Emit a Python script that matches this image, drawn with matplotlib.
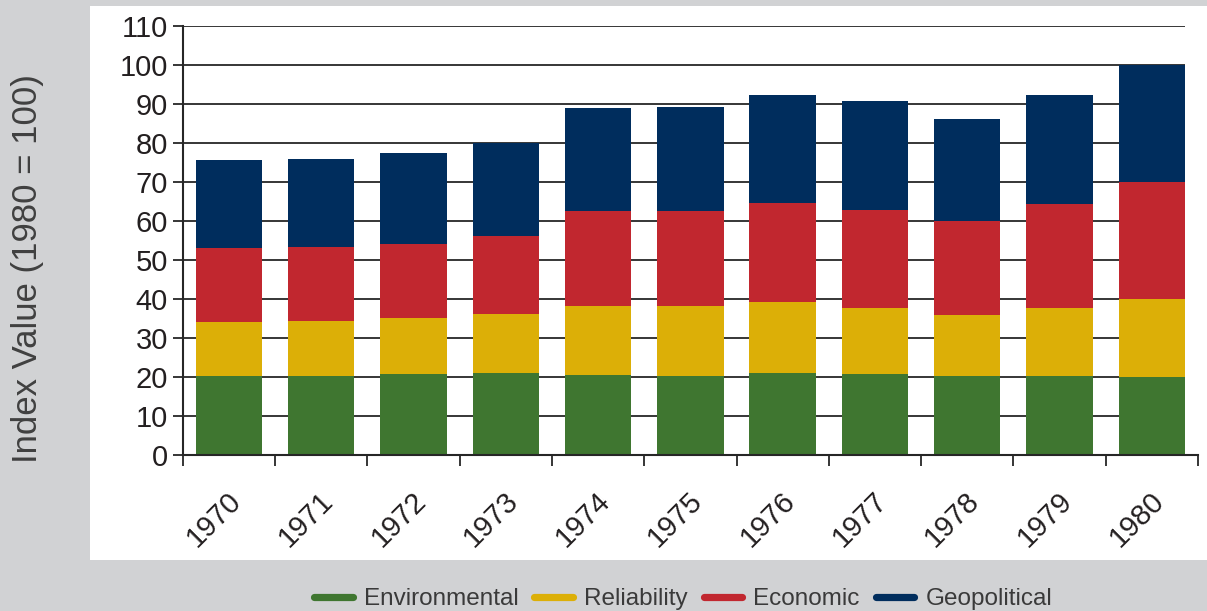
import numpy as np
import matplotlib
matplotlib.use("Agg")
import matplotlib.pyplot as plt
from matplotlib.lines import Line2D
from matplotlib.patches import Rectangle
from matplotlib.transforms import ScaledTranslation

# Index components per year (stacked, 1980 = 100)
years = ["1970", "1971", "1972", "1973", "1974", "1975",
         "1976", "1977", "1978", "1979", "1980"]
environmental = [20.3, 20.3, 20.8, 21.0, 20.5, 20.3, 21.0, 20.8, 20.3, 20.3, 20.0]
reliability = [13.8, 14.1, 14.3, 15.2, 17.7, 17.9, 18.2, 16.9, 15.6, 17.4, 20.0]
economic = [19.1, 18.9, 19.0, 20.0, 24.4, 24.4, 25.4, 25.1, 24.1, 26.7, 30.0]
geopolitical = [22.4, 22.6, 23.3, 23.7, 26.4, 26.6, 27.7, 28.0, 26.2, 27.9, 30.0]

labels = ["Environmental", "Reliability", "Economic", "Geopolitical"]
colors = ["#3f7630", "#dcaf07", "#c1272f", "#002d5d"]

plt.rcParams["font.family"] = ["Liberation Sans", "DejaVu Sans"]

W, H = 1207, 611
fig = plt.figure(figsize=(W / 100, H / 100), dpi=100, facecolor="#d1d2d4")

# white panel behind the plot
fig.add_artist(Rectangle((90 / W, 51 / H), 1117 / W, 554 / H,
                         transform=fig.transFigure, facecolor="white",
                         edgecolor="none", zorder=-1))

ax = fig.add_axes([182.7 / W, (H - 455) / H, (1198 - 182.7) / W, (455 - 26) / H])
ax.patch.set_visible(False)

x = np.arange(len(years))
bottom = np.zeros(len(years))
for vals, color in zip([environmental, reliability, economic, geopolitical], colors):
    ax.bar(x, vals, 0.72, bottom=bottom, color=color, linewidth=0, zorder=3)
    bottom += np.array(vals)

ax.set_xlim(-0.5, 10.5)
ax.set_ylim(0, 110)

line_col = "#262626"
yticks = np.arange(0, 111, 10)
ax.hlines(yticks[1:], -0.5, 10.36, colors=line_col, linewidth=1.3, zorder=1)

for side in ["top", "right"]:
    ax.spines[side].set_visible(False)
for side in ["left", "bottom"]:
    ax.spines[side].set_color(line_col)
    ax.spines[side].set_linewidth(1.5)
ax.spines["bottom"].set_zorder(4)

ax.set_yticks(yticks)
ax.tick_params(axis="y", length=7.2, width=1.3, pad=3.5, labelsize=21,
               colors=line_col, labelcolor="#231f20")

ax.set_xticks(x)
ax.set_xticklabels(years, rotation=45, ha="right", va="center",
                   rotation_mode="anchor")
ax.tick_params(axis="x", which="major", length=0, pad=30, labelsize=21,
               labelcolor="#231f20")
ax.set_xticks(np.arange(-0.5, 11, 1), minor=True)
ax.tick_params(axis="x", which="minor", length=8, width=1.3, colors=line_col)
for lbl in ax.get_xticklabels():
    lbl.set_transform(lbl.get_transform() + ScaledTranslation(0.08, 0, fig.dpi_scale_trans))

fig.text(28 / W, 1 - 268.5 / H, "Index Value (1980 = 100)", rotation=90,
         ha="center", va="center", fontsize=25, color="#404040")

handles = [Line2D([0], [0], color=c, lw=5.2, solid_capstyle="round") for c in colors]
fig.legend(handles, labels, loc="center", bbox_to_anchor=(683 / W, 12 / H),
           ncol=4, frameon=False, fontsize=17.5, handlelength=1.6,
           handletextpad=0.45, columnspacing=0.65, labelcolor="#3a3a3a",
           borderpad=0, borderaxespad=0)

fig.savefig("out.png", dpi=100, facecolor=fig.get_facecolor())
